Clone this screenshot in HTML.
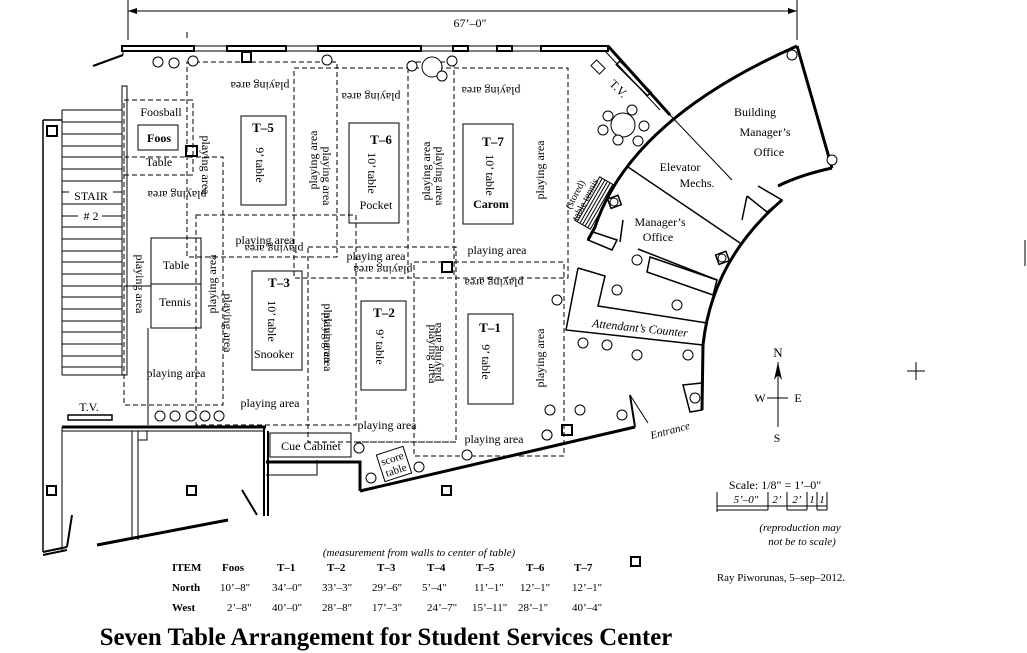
<!DOCTYPE html>
<html><head><meta charset="utf-8"><style>
html,body{margin:0;padding:0;background:#fff}
svg{display:block;font-family:"Liberation Serif",serif;font-size:12px}
text{fill:#000}
.b{font-weight:bold}
.i{font-style:italic}
.d{fill:none;stroke:#000;stroke-dasharray:5,3}
.s{fill:none;stroke:#000}
.t{fill:none;stroke:#000}
.c{fill:#fff;stroke:#000}
.m{text-anchor:middle}
</style></head><body>
<svg width="1027" height="653" viewBox="0 0 1027 653" xmlns="http://www.w3.org/2000/svg" stroke-width="1">
<line x1="128" y1="0" x2="128" y2="40" class="s"/>
<line x1="797" y1="0" x2="797" y2="40" class="s"/>
<line x1="128" y1="11" x2="797" y2="11" class="s"/>
<path d="M128,11 l9,-3 v6z M797,11 l-9,-3 v6z"/>
<text x="470" y="27" class="m">67’–0"</text>
<line x1="187" y1="32" x2="187" y2="38" class="s"/>

<line x1="122" y1="46" x2="608" y2="46" class="s"/>
<line x1="122" y1="51" x2="606" y2="51" class="s"/>
<rect x="122" y="46" width="72" height="5" class="s" stroke-width="2"/>
<rect x="227" y="46" width="59" height="5" class="s" stroke-width="2"/>
<rect x="318" y="46" width="103" height="5" class="s" stroke-width="2"/>
<rect x="453" y="46" width="15" height="5" class="s" stroke-width="2"/>
<rect x="497" y="46" width="15" height="5" class="s" stroke-width="2"/>
<rect x="541" y="46" width="67" height="5" class="s" stroke-width="2"/>
<line x1="93" y1="66" x2="123" y2="55" class="s" stroke-width="2"/>
<line x1="123" y1="51" x2="123" y2="55" class="s"/>
<rect x="242" y="52" width="9" height="10" class="s" stroke-width="2"/>
<path d="M608,46 L670,115" class="t" stroke-width="3"/>
<path d="M670,115 L732,180" class="s"/>
<path d="M605,51 L660,110" class="s"/>
<path d="M797,46 Q630,120 595,227 L588,240" class="t" stroke-width="3"/>
<path d="M797,46 L832,168" class="t" stroke-width="3"/>
<path d="M832,168 Q800,175 778,186" class="t" stroke-width="3"/>
<path d="M782,200 Q712,260 703,345 L702,410" class="t" stroke-width="3"/>
<path d="M628,167 L740,243" class="s" stroke-width="1.5"/>
<path d="M758,186 L782,200 L767,212" class="s" stroke-width="1.5"/>
<path d="M747,196 L742,220 M747,196 L767,212" class="s" stroke-width="1.5"/>
<path d="M638,249 L717,280" class="s" stroke-width="1.5"/>
<path d="M650,257 L717,280 L713,295 L647,272 Z" class="s" stroke-width="1.5"/>
<path d="M578,268 L605,276 L598,306 L707,323" class="s" stroke-width="1.5"/>
<path d="M578,268 L566,330 L703,345" class="s" stroke-width="1.5"/>
<path d="M588,240 L593,232 L617,240 L612,250 Z" class="s" stroke-width="1.5"/>
<line x1="623" y1="220" x2="620" y2="242" class="s" stroke-width="1.5"/>
<rect x="609" y="197" width="11" height="10" class="s" stroke-width="1.5" transform="rotate(-20 614 202)"/>
<circle cx="614" cy="202" r="4" class="c"/>
<rect x="717" y="253" width="11" height="10" class="s" stroke-width="1.5" transform="rotate(-20 722 258)"/>
<circle cx="722" cy="258" r="4" class="c"/>
<rect x="612" y="76" width="44" height="5" class="s" stroke-width="1.5" transform="rotate(45 634 78)"/>
<rect x="592" y="63" width="12" height="8" class="s" transform="rotate(45 598 67)"/>
<text x="617" y="92" transform="rotate(45 617 90)" class="m">T.V.</text>
<circle cx="623" cy="125" r="12" class="c"/>
<circle cx="608" cy="116" r="5" class="c"/><circle cx="632" cy="110" r="5" class="c"/>
<circle cx="644" cy="126" r="5" class="c"/><circle cx="638" cy="141" r="5" class="c"/>
<circle cx="618" cy="140" r="5" class="c"/><circle cx="603" cy="130" r="5" class="c"/>
<circle cx="792" cy="55" r="5" class="c"/><circle cx="832" cy="160" r="5" class="c"/>
<g transform="rotate(30 595 203)" class="s">
<rect x="586" y="178" width="18" height="50"/>
<line x1="589" y1="178" x2="589" y2="228"/><line x1="592" y1="178" x2="592" y2="228"/>
<line x1="595" y1="178" x2="595" y2="228"/><line x1="598" y1="178" x2="598" y2="228"/>
<line x1="601" y1="178" x2="601" y2="228"/>
</g>
<text x="578" y="196" style="font-size:10px" transform="rotate(-62 578 196)" class="m">(stored)</text>
<text x="588" y="201" style="font-size:10px" transform="rotate(-62 588 201)" class="m">table tennis</text>
<text x="755" y="116" class="m">Building</text>
<text x="765" y="136" class="m">Manager’s</text>
<text x="769" y="156" class="m">Office</text>
<text x="680" y="171" class="m">Elevator</text>
<text x="697" y="187" class="m">Mechs.</text>
<text x="660" y="226" class="m">Manager’s</text>
<text x="658" y="241" class="m">Office</text>
<text x="640" y="332" class="m i" transform="rotate(6 640 328)">Attendant’s Counter</text>
<circle cx="637" cy="260" r="5" class="c"/><circle cx="617" cy="290" r="5" class="c"/>
<circle cx="677" cy="305" r="5" class="c"/><circle cx="557" cy="300" r="5" class="c"/>
<circle cx="583" cy="343" r="5" class="c"/><circle cx="607" cy="345" r="5" class="c"/>
<circle cx="637" cy="355" r="5" class="c"/><circle cx="688" cy="355" r="5" class="c"/>
<circle cx="550" cy="410" r="5" class="c"/><circle cx="580" cy="410" r="5" class="c"/>
<circle cx="622" cy="415" r="5" class="c"/><circle cx="547" cy="435" r="5" class="c"/>
<path d="M683,385 L702,383 L702,410 L690,412 Z" class="s" stroke-width="1.5"/>
<circle cx="695" cy="398" r="5" class="c"/>
<path d="M630,395 L635,427" class="s" stroke-width="2"/>
<path d="M630,395 L648,423" class="s"/>
<text x="670" y="434" class="m i" style="font-size:11px" transform="rotate(-15 670 430)">Entrance</text>
<rect x="562" y="425" width="10" height="10" class="s" stroke-width="2"/>
<path d="M360,491 L635,427" class="t" stroke-width="3"/>
<path d="M360,491 L360,462 L266,462" class="t" stroke-width="3"/>
<path d="M266,475 L317,475 L317,460" class="s"/>
<text x="778" y="357" class="m" style="font-size:13px">N</text>
<line x1="778" y1="362" x2="778" y2="427" class="s"/>
<path d="M778,362 L774,380 L778,375 L782,380 Z"/>
<line x1="767" y1="398" x2="788" y2="398" class="s"/>
<text x="760" y="402" class="m">W</text>
<text x="798" y="402" class="m">E</text>
<text x="777" y="442" class="m">S</text>
<line x1="1025" y1="240" x2="1025" y2="266" class="s"/>
<line x1="916" y1="362" x2="916" y2="380" class="s"/>
<line x1="907" y1="371" x2="925" y2="371" class="s"/>

<path d="M43,120 L62,120 M43,120 L43,552" class="s" stroke-width="1.5"/>
<rect x="47" y="126" width="10" height="10" class="s" stroke-width="2"/>
<line x1="62" y1="110" x2="62" y2="375" class="s"/>
<line x1="62" y1="110" x2="122" y2="110" class="s"/>
<g class="s">
<line x1="62" y1="122" x2="122" y2="122"/><line x1="62" y1="134" x2="122" y2="134"/>
<line x1="62" y1="146" x2="122" y2="146"/><line x1="62" y1="157" x2="122" y2="157"/>
<line x1="62" y1="169" x2="122" y2="169"/><line x1="62" y1="181" x2="122" y2="181"/>
<line x1="62" y1="192" x2="122" y2="192"/><line x1="62" y1="204" x2="122" y2="204"/>
<line x1="62" y1="216" x2="122" y2="216"/><line x1="62" y1="227" x2="122" y2="227"/>
<line x1="62" y1="239" x2="122" y2="239"/><line x1="62" y1="251" x2="122" y2="251"/>
<line x1="62" y1="262" x2="122" y2="262"/><line x1="62" y1="274" x2="122" y2="274"/>
<line x1="62" y1="286" x2="122" y2="286"/><line x1="62" y1="297" x2="122" y2="297"/>
<line x1="62" y1="309" x2="122" y2="309"/><line x1="62" y1="321" x2="122" y2="321"/>
<line x1="62" y1="332" x2="122" y2="332"/><line x1="62" y1="344" x2="122" y2="344"/>
<line x1="62" y1="356" x2="122" y2="356"/><line x1="62" y1="367" x2="122" y2="367"/>
<line x1="62" y1="375" x2="122" y2="375"/>
</g>
<rect x="122" y="86" width="5" height="289" class="s"/>
<rect x="69" y="187" width="44" height="14" fill="#fff"/>
<rect x="78" y="207" width="24" height="14" fill="#fff"/>
<text x="91" y="200" class="m">STAIR</text>
<text x="91" y="220" class="m"># 2</text>
<text x="89" y="411" class="m">T.V.</text>
<rect x="68" y="415" width="44" height="5" class="s" stroke-width="1.5"/>
<path d="M62,427 L266,427" class="t" stroke-width="3"/>
<path d="M62,431 L264,431" class="s"/>
<path d="M264,427 L264,516 M268,431 L268,516" class="s" stroke-width="2"/>
<path d="M132,431 L132,540 M138,431 L138,540" class="s"/>
<path d="M62,427 L62,550" class="s"/>
<rect x="138" y="431" width="9" height="9" class="s"/>
<path d="M97,545 L228,520" class="t" stroke-width="3"/>
<path d="M72,515 L67,547" class="s" stroke-width="2"/>
<path d="M43,552 L67,547 M43,555 L67,550" class="s" stroke-width="2"/>
<path d="M242,490 L257,515" class="s" stroke-width="2"/>
<rect x="47" y="486" width="9" height="9" class="s" stroke-width="2"/>
<rect x="187" y="486" width="9" height="9" class="s" stroke-width="2"/>
<rect x="442" y="486" width="9" height="9" class="s" stroke-width="2"/>
<rect x="631" y="557" width="9" height="9" class="s" stroke-width="2"/>

<rect x="187" y="62" width="150" height="195" class="d"/>
<line x1="408" y1="62" x2="454" y2="62" class="d"/>
<rect x="294" y="68" width="274" height="210" class="d"/>
<line x1="408" y1="68" x2="408" y2="278" class="d"/>
<line x1="454" y1="62" x2="454" y2="278" class="d"/>
<rect x="124" y="100" width="69" height="75" class="d"/>
<rect x="124" y="157" width="99" height="248" class="d"/>
<rect x="196" y="215" width="160" height="210" class="d"/>
<rect x="308" y="247" width="148" height="195" class="d"/>
<rect x="414" y="262" width="150" height="194" class="d"/>
<line x1="356" y1="442" x2="456" y2="442" class="d"/>

<rect x="241" y="116" width="45" height="89" class="s"/>
<rect x="349" y="123" width="50" height="100" class="s"/>
<rect x="463" y="124" width="50" height="100" class="s"/>
<rect x="252" y="271" width="50" height="99" class="s"/>
<rect x="361" y="301" width="45" height="89" class="s"/>
<rect x="468" y="314" width="45" height="90" class="s"/>
<rect x="138" y="125" width="40" height="25" class="s"/>
<rect x="151" y="238" width="50" height="90" class="s"/>
<line x1="151" y1="284" x2="201" y2="284" class="s"/>
<line x1="148" y1="328" x2="148" y2="425" class="s"/>
<line x1="124" y1="286" x2="151" y2="286" class="s"/>
<rect x="186" y="146" width="11" height="10" class="s" stroke-width="2"/>
<rect x="442" y="262" width="10" height="10" class="s" stroke-width="2"/>
<rect x="270" y="433" width="81" height="24" class="s"/>
<text x="311" y="450" class="m">Cue Cabinet</text>
<g transform="rotate(-18 394 464)">
<rect x="380" y="450" width="28" height="28" class="s"/>
<text x="394" y="462" class="m" style="font-size:11px">score</text>
<text x="394" y="474" class="m" style="font-size:11px">table</text>
</g>

<g>
<circle cx="158" cy="62" r="5" class="c"/><circle cx="174" cy="63" r="5" class="c"/>
<circle cx="193" cy="61" r="5" class="c"/><circle cx="327" cy="60" r="5" class="c"/>
<circle cx="412" cy="66" r="5" class="c"/><circle cx="432" cy="67" r="10" class="c"/>
<circle cx="452" cy="61" r="5" class="c"/><circle cx="442" cy="76" r="5" class="c"/>
<circle cx="160" cy="416" r="5" class="c"/><circle cx="175" cy="416" r="5" class="c"/>
<circle cx="191" cy="416" r="5" class="c"/><circle cx="205" cy="416" r="5" class="c"/>
<circle cx="219" cy="416" r="5" class="c"/>
<circle cx="359" cy="448" r="5" class="c"/><circle cx="371" cy="478" r="5" class="c"/>
<circle cx="419" cy="467" r="5" class="c"/><circle cx="467" cy="455" r="5" class="c"/>
<circle cx="547" cy="435" r="5" class="c"/>
</g>

<text x="263" y="132" class="m b" style="font-size:13px">T–5</text>
<text x="260" y="165" class="m" transform="rotate(90 260 165)" dy="4">9’ table</text>
<text x="381" y="144" class="m b" style="font-size:13px">T–6</text>
<text x="372" y="173" class="m" transform="rotate(90 372 173)" dy="4">10’ table</text>
<text x="376" y="209" class="m">Pocket</text>
<text x="493" y="146" class="m b" style="font-size:13px">T–7</text>
<text x="490" y="175" class="m" transform="rotate(90 490 175)" dy="4">10’ table</text>
<text x="491" y="208" class="m b">Carom</text>
<text x="279" y="287" class="m b" style="font-size:13px">T–3</text>
<text x="272" y="321" class="m" transform="rotate(90 272 321)" dy="4">10’ table</text>
<text x="274" y="358" class="m">Snooker</text>
<text x="384" y="317" class="m b" style="font-size:13px">T–2</text>
<text x="380" y="347" class="m" transform="rotate(90 380 347)" dy="4">9’ table</text>
<text x="490" y="332" class="m b" style="font-size:13px">T–1</text>
<text x="486" y="362" class="m" transform="rotate(90 486 362)" dy="4">9’ table</text>
<text x="161" y="116" class="m">Foosball</text>
<text x="159" y="142" class="m b">Foos</text>
<text x="159" y="166" class="m">Table</text>
<text x="176" y="269" class="m">Table</text>
<text x="175" y="306" class="m">Tennis</text>

<g>
<text x="260" y="86" class="m" transform="rotate(180 260 86)" dy="4">playing area</text>
<text x="371" y="97" class="m" transform="rotate(180 371 97)" dy="4">playing area</text>
<text x="491" y="91" class="m" transform="rotate(180 491 91)" dy="4">playing area</text>
<text x="206" y="165" class="m" transform="rotate(90 206 165)" dy="4">playing area</text>
<text x="313" y="160" class="m" transform="rotate(-90 313 160)" dy="4">playing area</text>
<text x="327" y="176" class="m" transform="rotate(90 327 176)" dy="4">playing area</text>
<text x="426" y="171" class="m" transform="rotate(-90 426 171)" dy="4">playing area</text>
<text x="440" y="176" class="m" transform="rotate(90 440 176)" dy="4">playing area</text>
<text x="540" y="170" class="m" transform="rotate(-90 540 170)" dy="4">playing area</text>
<text x="177" y="195" class="m" transform="rotate(180 177 195)" dy="4">playing area</text>
<text x="265" y="244" class="m">playing area</text>
<text x="274" y="243" class="m" transform="rotate(180 274 243)" dy="-2">playing area</text>
<text x="376" y="260" class="m">playing area</text>
<text x="383" y="270" class="m" transform="rotate(180 383 270)" dy="4">playing area</text>
<text x="497" y="254" class="m">playing area</text>
<text x="494" y="283" class="m" transform="rotate(180 494 283)" dy="4">playing area</text>
<text x="140" y="284" class="m" transform="rotate(90 140 284)" dy="4">playing area</text>
<text x="212" y="284" class="m" transform="rotate(-90 212 284)" dy="4">playing area</text>
<text x="228" y="323" class="m" transform="rotate(90 228 323)" dy="4">playing area</text>
<text x="328" y="333" class="m" transform="rotate(90 328 333)" dy="4">playing area</text>
<text x="328" y="342" class="m" transform="rotate(90 328 342)" dy="4">playing area</text>
<text x="433" y="354" class="m" transform="rotate(90 433 354)" dy="4">playing area</text>
<text x="437" y="352" class="m" transform="rotate(-90 437 352)" dy="4">playing area</text>
<text x="540" y="358" class="m" transform="rotate(-90 540 358)" dy="4">playing area</text>
<text x="176" y="377" class="m">playing area</text>
<text x="270" y="407" class="m">playing area</text>
<text x="387" y="429" class="m">playing area</text>
<text x="494" y="443" class="m">playing area</text>
</g>

<text x="775" y="489" class="m">Scale: 1/8" = 1’–0"</text>
<line x1="717" y1="492" x2="717" y2="512" class="s"/>
<line x1="768" y1="492" x2="768" y2="510" class="s"/>
<line x1="787" y1="492" x2="787" y2="510" class="s"/>
<line x1="807" y1="492" x2="807" y2="510" class="s"/>
<line x1="817" y1="492" x2="817" y2="510" class="s"/>
<line x1="827" y1="492" x2="827" y2="510" class="s"/>
<line x1="717" y1="506" x2="827" y2="506" class="s"/>
<line x1="717" y1="510" x2="768" y2="510" class="s"/>
<line x1="787" y1="510" x2="807" y2="510" class="s"/>
<line x1="817" y1="510" x2="827" y2="510" class="s"/>
<text x="746" y="503" class="m i" style="font-size:11px">5’–0"</text>
<text x="777" y="503" class="m i" style="font-size:11px">2’</text>
<text x="797" y="503" class="m i" style="font-size:11px">2’</text>
<text x="812" y="503" class="m i" style="font-size:11px">1</text>
<text x="822" y="503" class="m i" style="font-size:11px">1</text>
<text x="800" y="531" class="m i" style="font-size:11px">(reproduction may</text>
<text x="802" y="545" class="m i" style="font-size:11px">not be to scale)</text>
<text x="781" y="581" class="m" style="font-size:11px">Ray Piworunas, 5–sep–2012.</text>

<text x="419" y="556" class="m i" style="font-size:11px">(measurement from walls to center of table)</text>
<g style="font-size:11px">
<text x="172" y="571" class="b">ITEM</text>
<text x="222" y="571" class="b">Foos</text>
<text x="277" y="571" class="b">T–1</text>
<text x="327" y="571" class="b">T–2</text>
<text x="377" y="571" class="b">T–3</text>
<text x="427" y="571" class="b">T–4</text>
<text x="476" y="571" class="b">T–5</text>
<text x="526" y="571" class="b">T–6</text>
<text x="574" y="571" class="b">T–7</text>
<text x="172" y="591" class="b">North</text>
<text x="220" y="591">10’–8"</text>
<text x="272" y="591">34’–0"</text>
<text x="322" y="591">33’–3"</text>
<text x="372" y="591">29’–6"</text>
<text x="422" y="591">5’–4"</text>
<text x="474" y="591">11’–1"</text>
<text x="520" y="591">12’–1"</text>
<text x="572" y="591">12’–1"</text>
<text x="172" y="611" class="b">West</text>
<text x="227" y="611">2’–8"</text>
<text x="272" y="611">40’–0"</text>
<text x="322" y="611">28’–8"</text>
<text x="372" y="611">17’–3"</text>
<text x="427" y="611">24’–7"</text>
<text x="472" y="611">15’–11"</text>
<text x="518" y="611">28’–1"</text>
<text x="572" y="611">40’–4"</text>
</g>
<text x="386" y="645" class="m b" style="font-size:24.8px">Seven Table Arrangement for Student Services Center</text>
</svg>
</body></html>
